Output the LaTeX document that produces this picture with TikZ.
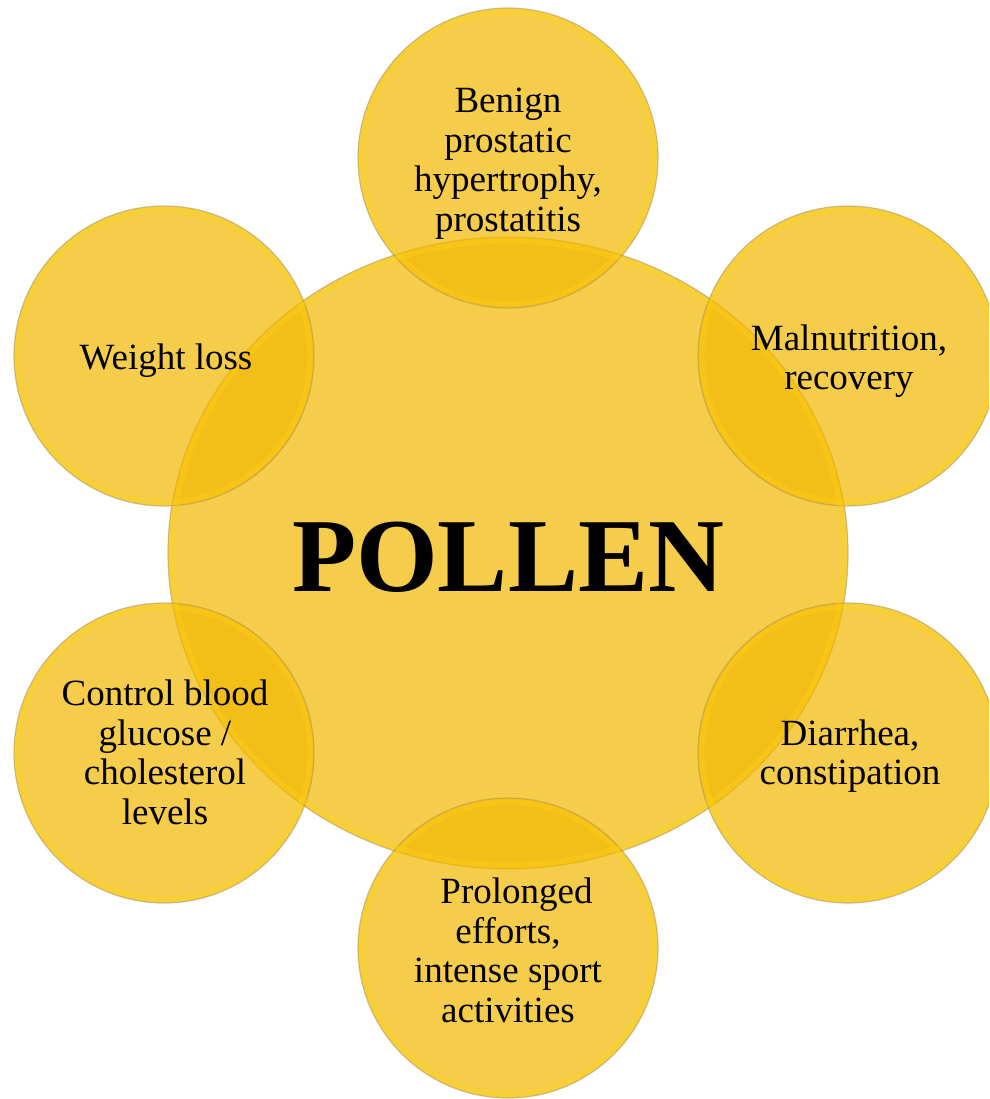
\documentclass[tikz,border=0pt]{standalone}
\usepackage{fontspec}
\setmainfont{Liberation Serif}
\usetikzlibrary{shapes.geometric}
\definecolor{pfill}{RGB}{243,185,5}
\definecolor{prim}{RGB}{175,150,85}
\definecolor{pglow}{RGB}{250,212,20}
\begin{document}
\begin{tikzpicture}[x=1pt,y=-1pt,
  bub/.style={circle, minimum size=300pt, inner sep=0pt, fill=pfill, fill opacity=0.72,
              draw=prim, draw opacity=0.55, line width=1.2pt},
  core/.style={ellipse, minimum width=680pt, minimum height=632pt, inner sep=0pt,
               fill=pfill, fill opacity=0.72, draw=prim, draw opacity=0.55, line width=1.2pt},
  lbl/.style={align=center, inner sep=0pt, font=\fontsize{37}{39.5}\selectfont, text=black},
  title/.style={inner sep=0pt, font=\fontsize{105}{110}\selectfont\bfseries, text=black}]
\useasboundingbox (0,0) rectangle (989,1099);
\clip (0,0) rectangle (989,1099);
% bubbles
\node[core] (pollen) at (508,553) {};
\node[bub] (c1) at (508,158) {};
\node[bub] (c2) at (848,356) {};
\node[bub] (c3) at (848,753) {};
\node[bub] (c4) at (508,948) {};
\node[bub] (c5) at (164,753) {};
\node[bub] (c6) at (164,356) {};
% inner rim glow
\foreach \c in {c1,c2,c3,c4,c5,c6}
  \draw[pglow, line width=5pt, opacity=0.35] (\c.center) circle (146pt);
\draw[pglow, line width=5pt, opacity=0.35] (pollen.center) ellipse [x radius=336pt, y radius=312pt];
% texts
\node[title, anchor=base] (tp) at (508,591) {POLLEN};
\node[lbl] (t1) at (508,164) {\strut Benign\\prostatic\\hypertrophy,\\prostatitis\strut};
\node[lbl] (t2) at (849,362) {\strut Malnutrition,\\recovery\strut};
\node[lbl] (t3) at (850,757) {\strut Diarrhea,\\constipation\strut};
\node[lbl] (t4) at (508,955) {\strut\hspace*{17pt}Prolonged\\efforts,\\intense sport\\activities\strut};
\node[lbl] (t5) at (165,757) {\strut Control blood\\glucose /\\cholesterol\\levels\strut};
\node[lbl] (t6) at (166,362) {\strut Weight loss\strut};
\end{tikzpicture}
\end{document}
